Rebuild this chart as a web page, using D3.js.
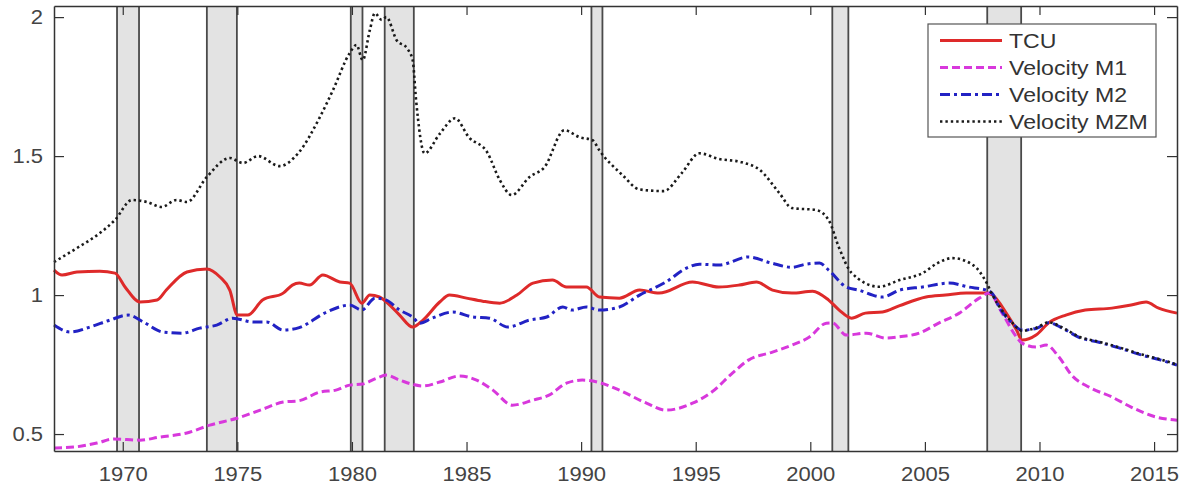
<!DOCTYPE html>
<html>
<head>
<meta charset="utf-8">
<script src="https://cdn.jsdelivr.net/npm/d3@7"></script>
<style>
  body { margin: 0; background: #fff; }
  svg { display: block; font-family: "Liberation Sans", Arial, sans-serif; }
</style>
</head>
<body>
<svg id="chart" width="1181" height="489"></svg>
<script>
// recession periods [start, end] in fractional years
const recessions = [
    [1969.75, 1970.71], [1973.67, 1974.98], [1979.95, 1980.46], [1981.43, 1982.7],
    [1990.45, 1990.93], [2000.96, 2001.66], [2007.72, 2009.2]
];

const xTicks = [1970, 1975, 1980, 1985, 1990, 1995, 2000, 2005, 2010, 2015];
const yTicks = [0.5, 1, 1.5, 2];

const tcu = [
    [1967.0, 1.09], [1967.35, 1.072], [1968.0, 1.083], [1969.0, 1.086], [1969.66, 1.079],
    [1970.1, 1.029], [1970.75, 0.975], [1971.5, 0.982], [1971.9, 1.018], [1972.8, 1.083],
    [1973.67, 1.094], [1974.24, 1.065], [1974.67, 1.018], [1975.0, 0.928], [1975.46, 0.928],
    [1976.1, 0.982], [1977.0, 1.007], [1977.4, 1.036], [1977.7, 1.043], [1978.15, 1.036],
    [1978.73, 1.072], [1979.47, 1.047], [1979.9, 1.043], [1980.43, 0.971], [1980.78, 1.0],
    [1981.2, 0.993], [1981.65, 0.964], [1982.08, 0.928], [1982.65, 0.885], [1983.1, 0.91],
    [1983.83, 0.975], [1984.26, 1.0], [1985.0, 0.989], [1985.7, 0.978], [1986.45, 0.971],
    [1987.2, 1.0], [1987.9, 1.043], [1988.75, 1.054], [1989.36, 1.029], [1990.23, 1.029],
    [1990.8, 0.993], [1991.67, 0.989], [1992.55, 1.018], [1993.4, 1.007], [1994.86, 1.047],
    [1996.0, 1.029], [1996.9, 1.036], [1997.65, 1.047], [1998.35, 1.018], [1999.2, 1.007],
    [2000.1, 1.014], [2000.8, 0.982], [2001.26, 0.946], [2001.8, 0.917], [2002.4, 0.935],
    [2003.15, 0.939], [2003.9, 0.962], [2005.05, 0.993], [2005.9, 1.0], [2006.8, 1.007],
    [2007.67, 1.007], [2007.95, 1.0], [2008.55, 0.935], [2009.0, 0.874], [2009.24, 0.838],
    [2009.85, 0.856], [2010.4, 0.9], [2011.15, 0.928], [2012.0, 0.946], [2013.16, 0.953],
    [2014.0, 0.964], [2014.65, 0.975], [2015.2, 0.953], [2016.0, 0.935]
];

const velM1 = [
    [1967.0, 0.45], [1967.85, 0.453], [1968.9, 0.468], [1969.6, 0.482], [1970.75, 0.478],
    [1971.6, 0.489], [1972.8, 0.504], [1973.8, 0.532], [1974.98, 0.557], [1976.0, 0.586],
    [1977.0, 0.615], [1977.7, 0.62], [1978.6, 0.651], [1979.3, 0.658], [1979.9, 0.676],
    [1980.47, 0.68], [1981.08, 0.701], [1981.5, 0.712], [1982.08, 0.694], [1983.1, 0.673],
    [1983.83, 0.687], [1984.7, 0.709], [1985.44, 0.694], [1986.15, 0.658], [1987.0, 0.604],
    [1987.9, 0.622], [1988.6, 0.64], [1989.36, 0.683], [1990.05, 0.694], [1990.8, 0.685],
    [1991.67, 0.658], [1992.85, 0.611], [1993.7, 0.586], [1994.86, 0.611], [1995.7, 0.651],
    [1996.6, 0.719], [1997.3, 0.766], [1998.35, 0.795], [1999.2, 0.82], [1999.96, 0.849],
    [2000.7, 0.899], [2000.96, 0.9], [2001.57, 0.856], [2002.44, 0.863], [2003.3, 0.845],
    [2003.9, 0.85], [2004.75, 0.863], [2005.6, 0.899], [2006.5, 0.935], [2007.37, 0.989],
    [2007.8, 1.007], [2008.37, 0.935], [2009.0, 0.849], [2009.24, 0.827], [2009.85, 0.813],
    [2010.3, 0.82], [2010.85, 0.777], [2011.4, 0.712], [2012.15, 0.669], [2013.17, 0.633],
    [2014.0, 0.597], [2015.1, 0.561], [2016.0, 0.55]
];

const velM2 = [
    [1967.0, 0.892], [1967.7, 0.867], [1968.57, 0.885], [1969.44, 0.91], [1970.23, 0.928],
    [1970.9, 0.903], [1971.75, 0.867], [1972.6, 0.863], [1973.36, 0.881], [1974.1, 0.892],
    [1974.8, 0.917], [1975.7, 0.903], [1976.28, 0.903], [1977.0, 0.874], [1977.7, 0.883],
    [1978.9, 0.939], [1979.9, 0.964], [1980.43, 0.946], [1981.0, 0.989], [1981.5, 0.982],
    [1982.08, 0.946], [1982.65, 0.921], [1982.95, 0.899], [1983.5, 0.917], [1984.4, 0.939],
    [1985.27, 0.921], [1986.0, 0.917], [1986.8, 0.885], [1987.75, 0.91], [1988.5, 0.921],
    [1989.2, 0.957], [1989.6, 0.946], [1990.23, 0.957], [1990.8, 0.946], [1991.67, 0.957],
    [1992.55, 1.0], [1993.7, 1.047], [1994.6, 1.097], [1995.16, 1.111], [1996.0, 1.108],
    [1997.3, 1.137], [1998.3, 1.115], [1999.2, 1.1], [1999.8, 1.111], [2000.4, 1.115],
    [2000.8, 1.09], [2001.57, 1.029], [2002.1, 1.018], [2003.15, 0.993], [2003.9, 1.018],
    [2004.9, 1.029], [2006.06, 1.043], [2006.9, 1.029], [2007.67, 1.018], [2007.95, 1.005],
    [2008.24, 0.957], [2008.8, 0.9], [2009.24, 0.874], [2009.85, 0.88], [2010.4, 0.9],
    [2011.15, 0.874], [2011.7, 0.849], [2012.6, 0.83], [2013.47, 0.81], [2014.47, 0.784],
    [2015.3, 0.766], [2016.0, 0.748]
];

const velMZM = [
    [1967.0, 1.119], [1968.0, 1.169], [1969.0, 1.223], [1969.66, 1.27], [1970.4, 1.342],
    [1971.05, 1.335], [1971.7, 1.317], [1972.35, 1.342], [1972.8, 1.335], [1973.67, 1.425],
    [1974.67, 1.493], [1975.25, 1.475], [1975.9, 1.5], [1976.85, 1.464], [1977.65, 1.51],
    [1978.6, 1.64], [1979.17, 1.737], [1979.9, 1.87], [1980.2, 1.9], [1980.47, 1.845],
    [1980.78, 1.953], [1981.0, 2.014], [1981.3, 1.99], [1981.5, 2.0], [1981.95, 1.917],
    [1982.4, 1.888], [1982.65, 1.845], [1982.8, 1.7], [1983.17, 1.51], [1983.83, 1.58],
    [1984.5, 1.636], [1985.1, 1.568], [1985.9, 1.514], [1986.45, 1.414], [1986.97, 1.36],
    [1987.75, 1.425], [1988.4, 1.46], [1989.27, 1.593], [1989.93, 1.568], [1990.5, 1.557],
    [1990.8, 1.52], [1991.8, 1.432], [1992.55, 1.38], [1993.6, 1.374], [1994.4, 1.44],
    [1995.16, 1.51], [1996.0, 1.49], [1997.0, 1.478], [1997.8, 1.45], [1998.65, 1.367],
    [1999.2, 1.313], [2000.26, 1.306], [2000.8, 1.27], [2001.26, 1.169], [2001.8, 1.08],
    [2003.0, 1.03], [2003.9, 1.054], [2004.9, 1.079], [2005.55, 1.115], [2006.2, 1.133],
    [2007.1, 1.108], [2007.7, 1.043], [2007.95, 1.0], [2008.24, 0.96], [2008.8, 0.902],
    [2009.24, 0.872], [2009.85, 0.882], [2010.4, 0.902], [2011.15, 0.876], [2011.7, 0.851],
    [2012.6, 0.832], [2013.47, 0.812], [2014.47, 0.786], [2015.3, 0.768], [2016.0, 0.75]
];

const seriesNames = ["TCU", "Velocity M1", "Velocity M2", "Velocity MZM"];

const svg = d3.select("#chart");
const x = d3.scaleLinear().domain([1967, 2016]).range([54, 1177]);
const y = d3.scaleLinear().domain([0.439, 2.04]).range([451, 6]);

const series = [
    { name: seriesNames[0], data: tcu, color: "#de2a2a", width: 3, dash: null },
    { name: seriesNames[1], data: velM1, color: "#d838dc", width: 3, dash: "8,4" },
    { name: seriesNames[2], data: velM2, color: "#2222c4", width: 3, dash: "10,4,3,4" },
    { name: seriesNames[3], data: velMZM, color: "#1a1a1a", width: 2.6, dash: "2.4,3" }
];

// recession bands
const bands = svg.append("g");
recessions.forEach(r => {
    bands.append("rect")
        .attr("x", x(r[0])).attr("y", y.range()[1])
        .attr("width", x(r[1]) - x(r[0])).attr("height", y.range()[0] - y.range()[1])
        .attr("fill", "#e3e3e3");
    r.forEach(v => {
        bands.append("line")
            .attr("x1", x(v)).attr("x2", x(v))
            .attr("y1", y.range()[1]).attr("y2", y.range()[0])
            .attr("stroke", "#4a4a4a").attr("stroke-width", 1.8);
    });
});

// lines
const line = d3.line().x(d => x(d[0])).y(d => y(d[1])).curve(d3.curveMonotoneX);
series.forEach(s => {
    svg.append("path")
        .attr("d", line(s.data))
        .attr("fill", "none")
        .attr("stroke", s.color)
        .attr("stroke-width", s.width)
        .attr("stroke-dasharray", s.dash)
        .attr("stroke-linejoin", "round");
});

// axes (ticks pointing inward, MATLAB style)
const styleAxis = g => {
    g.select(".domain").attr("stroke", "#333").attr("stroke-width", 1.5);
    g.selectAll(".tick line").attr("stroke", "#333").attr("stroke-width", 1.2);
    g.selectAll(".tick text").attr("fill", "#444").attr("font-size", 20);
};

svg.append("g")
    .attr("transform", `translate(0,${y.range()[0]})`)
    .call(d3.axisBottom(x).tickValues(xTicks).tickFormat(d3.format("d")).tickSizeInner(-9).tickSizeOuter(0).tickPadding(16))
    .call(styleAxis);
svg.append("g")
    .attr("transform", `translate(0,${y.range()[1]})`)
    .call(d3.axisTop(x).tickValues(xTicks).tickFormat("").tickSizeInner(-9).tickSizeOuter(0))
    .call(styleAxis);
svg.append("g")
    .attr("transform", `translate(${x.range()[0]},0)`)
    .call(d3.axisLeft(y).tickValues(yTicks).tickFormat(d => String(d)).tickSizeInner(-10).tickSizeOuter(0).tickPadding(11))
    .call(styleAxis);
svg.append("g")
    .attr("transform", `translate(${x.range()[1]},0)`)
    .call(d3.axisRight(y).tickValues(yTicks).tickFormat("").tickSizeInner(-10).tickSizeOuter(0))
    .call(styleAxis);

// legend
const legend = svg.append("g").attr("transform", "translate(928,24)");
legend.append("rect")
    .attr("width", 228).attr("height", 113)
    .attr("fill", "#fff").attr("stroke", "#555").attr("stroke-width", 1.2);
series.forEach((s, i) => {
    const ly = 16.5 + i * 27;
    legend.append("line")
        .attr("x1", 12).attr("x2", 74).attr("y1", ly).attr("y2", ly)
        .attr("stroke", s.color).attr("stroke-width", s.width)
        .attr("stroke-dasharray", s.dash);
    legend.append("text")
        .attr("x", 81).attr("y", ly).attr("dy", "0.35em")
        .attr("font-size", 21).attr("fill", "#333")
        .text(s.name);
});

// the source text is drawn slightly wide; stretch glyphs to match
svg.selectAll("text").each(function () {
    const w = this.getComputedTextLength();
    if (w > 0) d3.select(this).attr("textLength", w * 1.1).attr("lengthAdjust", "spacingAndGlyphs");
});
</script>
</body>
</html>
